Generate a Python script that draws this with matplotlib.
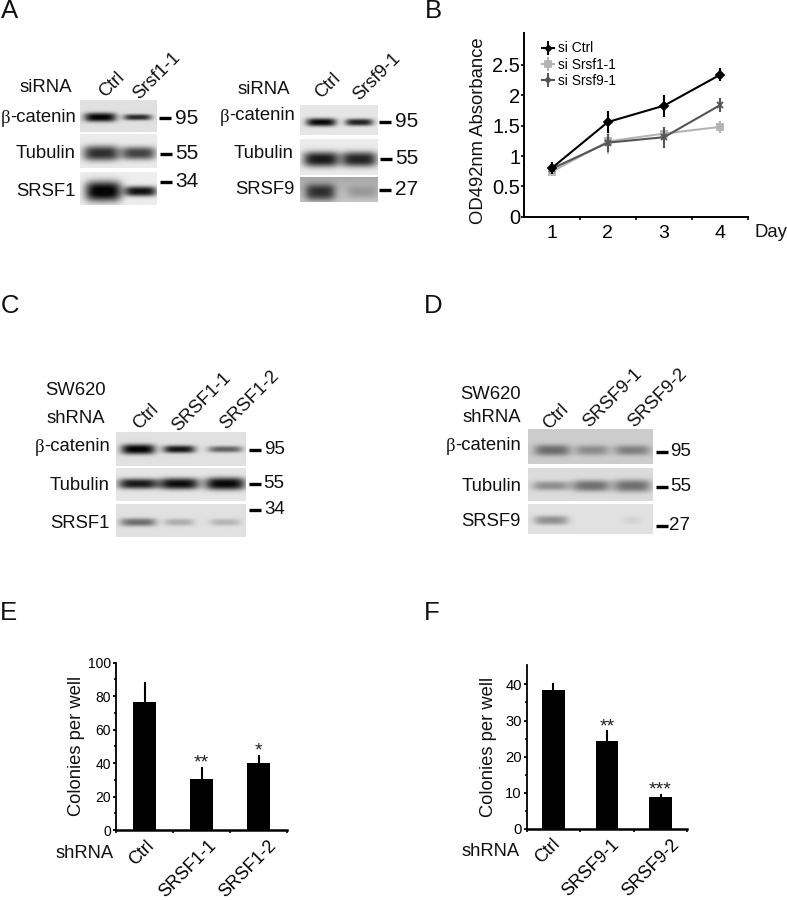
import numpy as np
import matplotlib
matplotlib.use("Agg")
import matplotlib.pyplot as plt
from matplotlib.lines import Line2D
from matplotlib.transforms import ScaledTranslation

plt.rcParams['font.family'] = ['Liberation Sans', 'DejaVu Sans']
W, H = 787, 900

# ---------- data ----------
days = [1, 2, 3, 4]
ctrl_b = [0.80, 1.56, 1.83, 2.34]
ctrl_err = [0.10, 0.18, 0.18, 0.11]
srsf1_b = [0.74, 1.24, 1.37, 1.48]
srsf1_err = [0.05, 0.20, 0.11, 0.10]
srsf9_b = [0.79, 1.22, 1.31, 1.84]
srsf9_err = [0.05, 0.15, 0.17, 0.11]

e_labels = ['Ctrl', 'SRSF1-1', 'SRSF1-2']
e_values = [76.5, 30.5, 40]
e_err = [11.5, 6.5, 4.5]
e_stars = ['', '**', '*']

f_labels = ['Ctrl', 'SRSF9-1', 'SRSF9-2']
f_values = [38.5, 24.2, 8.7]
f_err = [1.7, 2.8, 0.6]
f_stars = ['', '**', '***']

# band darkness per lane, read from the blots
a1_beta, a1_tub, a1_srsf = [0.87, 0.72], [0.74, 0.66], [0.95, 0.87]
a2_beta, a2_tub, a2_srsf = [0.87, 0.77], [0.82, 0.78], [0.55, 0.13]
c_beta, c_tub, c_srsf = [0.88, 0.80, 0.50], [0.80, 0.85, 0.88], [0.45, 0.20, 0.17]
d_beta, d_tub, d_srsf = [0.38, 0.25, 0.30], [0.30, 0.42, 0.42], [0.32, 0.0, 0.05]

# ---------- helpers ----------
fig = plt.figure(figsize=(W / 100, H / 100), dpi=100, facecolor='white')


def fx(x):
    return x / W


def fy(y):
    return 1 - y / H


def axes_px(l, t, r, b):
    return fig.add_axes([fx(l), fy(b), (r - l) / W, (b - t) / H])


def label(x, y, s, size=13.3, ha='left', va='center', rot=0, **kw):
    fig.text(fx(x), fy(y), s, fontsize=size, ha=ha, va=va, rotation=rot,
             rotation_mode='anchor', color='#111111', **kw)


def beta_label(xr, y, size=13.3):
    # Greek letter in a serif face, as in the original
    label(xr, y, '-catenin', size, ha='right')
    label(xr - 66 * size / 13.3, y + 1, 'β', size, ha='right', family=['Liberation Serif'])


def marker(x, y, s, size=15, L=12, gap=3.5):
    fig.add_artist(Line2D([fx(x), fx(x + L)], [fy(y), fy(y)], color='black',
                          lw=2.4, solid_capstyle='butt', transform=fig.transFigure))
    label(x + L + gap, y, s, size)


def blot(l, t, r, b, cy, lanes, strengths, hw, hh, bg=0.9, vgrad=0.0):
    ax = axes_px(l, t, r, b)
    xs = np.arange(l, r, 0.5)
    ys = np.arange(t, b, 0.5)
    X, Y = np.meshgrid(xs, ys)
    dark = np.zeros_like(X)
    for cx, s, w, h in zip(lanes, strengths, hw, hh):
        dark += s * np.exp(-((X - cx) / w) ** 4) * np.exp(-(np.abs(Y - cy) / h) ** 2.6)
    img = bg - vgrad * (1 - np.abs(Y - t) / (b - t)) - dark
    ax.imshow(np.clip(img, 0.02, 1), cmap='gray', vmin=0, vmax=1, aspect='auto',
              extent=(l, r, b, t), interpolation='bilinear')
    ax.axis('off')


# ---------- panel letters ----------
for s, x, y in [('A', 1, 11), ('B', 425, 11), ('C', 1, 306), ('D', 424, 306),
                ('E', 0, 613), ('F', 424, 613)]:
    label(x, y, s, 18.5)

# ---------- panel A ----------
blot(80, 100, 156.5, 132, 117, [100, 137], a1_beta, [16, 14], [4.5, 3], bg=0.88)
blot(80, 134, 156.5, 168, 153, [101, 138], a1_tub, [18, 17], [7.5, 6.5], bg=0.92)
blot(80, 172, 156.5, 205, 191, [103, 140], a1_srsf, [18, 16], [10, 5], bg=0.93)
blot(300, 105, 378, 135, 122, [321, 359], a2_beta, [15, 14], [4, 3.5], bg=0.90)
blot(300, 139, 378, 175, 159, [321, 359], a2_tub, [18, 18], [7.5, 7.5], bg=0.92)
blot(300, 177, 378, 202, 192, [320, 362], a2_srsf, [15, 15], [8, 6], bg=0.78, vgrad=0.12)

label(20, 88, 'siRNA', 13.4)
label(238, 90, 'siRNA', 13.4)
beta_label(76, 117)
label(76, 154, 'Tubulin', ha='right')
label(76, 191, 'SRSF1', ha='right')
beta_label(295, 116)
label(294, 153, 'Tubulin', ha='right')
label(295, 190, 'SRSF9', ha='right')
for x, y, s in [(122, 75, 'Ctrl'), (178, 55, 'Srsf1-1'), (338, 76, 'Ctrl'), (398, 56, 'Srsf9-1')]:
    label(x, y, s, 13.2, ha='right', va='center', rot=45)
marker(159, 118, '95')
marker(160, 153.5, '55')
marker(160, 181.5, '34')
marker(379, 121.5, '95')
marker(380, 159, '55')
marker(379, 189.5, '27')

# ---------- panel B ----------
ax = axes_px(523.6, 33, 748.4, 216.7)
series = [(ctrl_b, ctrl_err, 'black', 'D', 3.6, 'si Ctrl', 3),
          (srsf1_b, srsf1_err, '#b4b4b4', 's', 5, 'si Srsf1-1', 1),
          (srsf9_b, srsf9_err, '#555555', 'x', 4.2, 'si Srsf9-1', 2)]
for vals, err, col, mk, ms, name, z in series:
    ax.errorbar(days, vals, yerr=err, color=col, marker=mk, ms=ms, mew=1.3, lw=1.5,
                elinewidth=1.5, capsize=0, label=name, zorder=z)
ax.set_xlim(0.5, 4.5)
ax.set_ylim(0, 183.7 / 60.7)
ax.set_yticks([0, 0.5, 1, 1.5, 2, 2.5], ['0', '0.5', '1', '1.5', '2', '2.5'])
ax.set_xticks([1.5, 2.5, 3.5, 4.5], minor=False)
ax.set_xticklabels([])
ax.set_xticks(days, [str(d) for d in days], minor=True)
ax.tick_params(axis='x', which='major', length=2, width=1.2)
ax.tick_params(axis='x', which='minor', length=0, labelsize=14, pad=6)
ax.tick_params(axis='y', length=2, width=1.2, labelsize=14.5, pad=0.5)
for s in ['top', 'right']:
    ax.spines[s].set_visible(False)
for s in ['left', 'bottom']:
    ax.spines[s].set_linewidth(1.4)
ax.set_ylabel('OD492nm Absorbance', fontsize=13.3, labelpad=4, color='#111111', y=0.47)
h, l_ = ax.get_legend_handles_labels()
ax.legend(h, l_, loc='upper left', bbox_to_anchor=(fx(542), fy(41.5)), bbox_transform=fig.transFigure,
          frameon=False, fontsize=9.9, handlelength=0.85, handletextpad=0.3, labelspacing=0.16,
          borderpad=0, borderaxespad=0, markerscale=0.8)
label(754, 232.5, 'Day', 13.3)

# ---------- panel C ----------
blot(116, 432, 246, 466, 449, [138, 179, 225], c_beta, [17, 16, 17], [5, 3.8, 3.2], bg=0.88)
blot(116, 468, 246, 501, 484, [138, 179, 225], c_tub, [20, 20, 20], [5, 5.5, 6], bg=0.90)
blot(116, 504, 246, 537, 522, [138, 179, 225], c_srsf, [18, 15, 15], [4, 3.5, 3.5], bg=0.88)
label(45, 391, 'SW620', 13.3)
label(47, 419, 'shRNA', 13.3)
beta_label(110, 447)
label(110, 485, 'Tubulin', ha='right')
label(110, 523, 'SRSF1', ha='right')
for x, y, s in [(156, 407, 'Ctrl'), (228, 375, 'SRSF1-1'), (276, 373, 'SRSF1-2')]:
    label(x, y, s, 13.2, ha='right', rot=45)
marker(249, 449.5, '95', 13.5, L=12, gap=3)
marker(249, 484, '55', 13.5, L=12, gap=2)
marker(249, 509.5, '34', 13.5, L=12, gap=3)

# ---------- panel D ----------
blot(528, 429, 653, 464, 450, [552, 592, 632], d_beta, [18, 17, 18], [5.5, 5, 5], bg=0.80)
blot(528, 468, 653, 501, 486, [551, 591, 632], d_tub, [19, 19, 19], [4.5, 5.5, 6], bg=0.86)
blot(528, 504, 653, 534, 520, [551, 591, 632], d_srsf, [17, 15, 10], [4.5, 4, 4], bg=0.88)
label(521, 394, 'SW620', 13.3, ha='right')
label(521, 417, 'shRNA', 13.3, ha='right')
beta_label(521, 446)
label(521, 486, 'Tubulin', ha='right')
label(521, 522, 'SRSF9', ha='right')
for x, y, s in [(566, 407, 'Ctrl'), (640, 371, 'SRSF9-1'), (685, 371, 'SRSF9-2')]:
    label(x, y, s, 13.2, ha='right', rot=45)
marker(656, 452, '95', 13.5, L=11.5, gap=3)
marker(656, 486.5, '55', 13.5, L=11.5, gap=3)
marker(656, 525.5, '27', 13.5, L=11.5, gap=2)


# ---------- panels E, F ----------
def bars(box, names, vals, errs, stars, ymax, major, minor, width, tsize, lab_dx, ylab_pad):
    ax = axes_px(*box)
    x = np.arange(len(vals))
    ax.bar(x, vals, width=width, color='black', zorder=2)
    ax.errorbar(x, vals, yerr=[np.zeros(len(errs)), errs], fmt='none', ecolor='black',
                elinewidth=1.5, capsize=1, capthick=1.5, zorder=1)
    for xi, v, e, s in zip(x, vals, errs, stars):
        if s:
            ax.annotate(s, (xi, v + e), xytext=(0, 3.5), textcoords='offset points',
                        ha='center', va='center', fontsize=14, color='#222222')
    ax.set_xlim(-0.5, len(vals) - 0.5)
    ax.set_ylim(0, ymax)
    ax.set_yticks(major)
    ax.set_yticks(minor, minor=True)
    ax.tick_params(axis='y', which='major', length=2.5, width=1.3, labelsize=tsize, pad=1)
    ax.tick_params(axis='y', which='minor', length=1.5, width=1.2)
    ax.set_xticks(x, names, rotation=45, ha='right', rotation_mode='anchor', fontsize=12.8)
    ax.tick_params(axis='x', which='major', length=0, pad=5)
    ax.set_xticks([-0.5, 0.5, 1.5, 2.5], minor=True)
    ax.tick_params(axis='x', which='minor', length=2.5, width=1.2)
    for t, dx in zip(ax.get_xticklabels(), lab_dx):
        t.set_transform(t.get_transform() + ScaledTranslation(dx / 100, 0, fig.dpi_scale_trans))
    for s in ['top', 'right']:
        ax.spines[s].set_visible(False)
    ax.spines['left'].set_linewidth(1.3)
    ax.spines['bottom'].set_linewidth(1.8)
    ax.set_ylabel('Colonies per well', fontsize=13.2, labelpad=ylab_pad, color='#111111')
    return ax


bars((116, 662.7, 287.3, 830), e_labels, e_values, e_err, e_stars, 100,
     [0, 20, 40, 60, 80, 100], np.arange(10, 100, 20), 0.41, 10, [1, 6, 9], 2.5)
label(56, 853, 'shRNA', 13.2)
bars((526.7, 665, 687.3, 828.7), f_labels, f_values, f_err, f_stars, 45.4,
     [0, 10, 20, 30, 40], np.arange(5, 45, 10), 0.42, 10.6, [-2, 4, 10], 6)
label(462, 851, 'shRNA', 13.2)

fig.savefig('out.png', dpi=100, facecolor='white')
